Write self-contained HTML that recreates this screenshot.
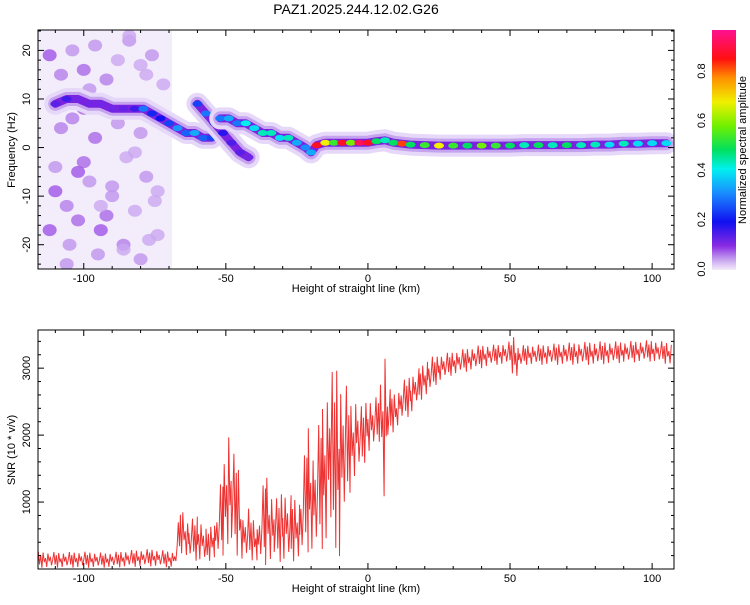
<!DOCTYPE html>
<html><head><meta charset="utf-8"><style>
body{margin:0;background:#fff;font-family:"Liberation Sans",sans-serif}
svg text{font-family:"Liberation Sans",sans-serif;font-size:11px;fill:#000}
</style></head><body>
<svg id="c" width="750" height="600" xmlns="http://www.w3.org/2000/svg">
<defs>
<linearGradient id="cb" x1="0" y1="1" x2="0" y2="0">
<stop offset="0" stop-color="#f4ecfb"/><stop offset="0.04" stop-color="#c9a8f0"/><stop offset="0.1" stop-color="#8a2be2"/>
<stop offset="0.2" stop-color="#1010f0"/><stop offset="0.32" stop-color="#1a8cff"/><stop offset="0.42" stop-color="#00f0f0"/>
<stop offset="0.5" stop-color="#00e060"/><stop offset="0.6" stop-color="#70f000"/><stop offset="0.7" stop-color="#f0f000"/>
<stop offset="0.8" stop-color="#ff9000"/><stop offset="0.88" stop-color="#ff1010"/><stop offset="1" stop-color="#ff1090"/>
</linearGradient>
<clipPath id="clipT"><rect x="38" y="30" width="636" height="239"/></clipPath>
<clipPath id="clipB"><rect x="38" y="330" width="636" height="239"/></clipPath>
</defs>
<text x="356" y="14" text-anchor="middle" style="font-size:14px">PAZ1.2025.244.12.02.G26</text>
<g id="top" clip-path="url(#clipT)"></g>
<g id="bot" clip-path="url(#clipB)"></g>
<g id="axes"></g>
<rect x="712" y="30" width="24" height="240" fill="url(#cb)"/>
<text transform="translate(746,150) rotate(-90)" text-anchor="middle">Normalized spectral amplitude</text>
<text x="356" y="292" text-anchor="middle">Height of straight line (km)</text>
<text x="356" y="592" text-anchor="middle">Height of straight line (km)</text>
<text transform="translate(15,150) rotate(-90)" text-anchor="middle">Frequency (Hz)</text>
<text transform="translate(15,450) rotate(-90)" text-anchor="middle">SNR (10 * v/v)</text>
</svg>
<script>
// main ridge (left, -110 to -53 km)
const ridgeAKm  = [-110,-106,-102,-98,-94,-90,-86,-82,-79,-76,-73,-70,-67,-64,-61,-58,-55];
const ridgeAHz  = [9,10,10,9,9,8,8,8,8,7,6,5,4,3,3,2,2];
const ridgeAAmp = [0.14,0.16,0.12,0.12,0.12,0.12,0.13,0.16,0.3,0.22,0.2,0.25,0.33,0.28,0.35,0.28,0.25];
// lower branch (-60 to -41 km)
const ridgeBKm  = [-60,-57,-54,-51,-48,-45,-42];
const ridgeBHz  = [9,7,5,3,1,-1,-2];
const ridgeBAmp = [0.25,0.3,0.22,0.18,0.15,0.14,0.12];
// continuing ridge (-52 to 107 km)
const ridgeCKm  = [-52,-49,-46,-43,-40,-37,-34,-31,-28,-25,-22,-20,-18,-15,-12,-9,-6,-3,0,3,6,9,12,15,20,25,30,35,40,45,50,55,60,65,70,75,80,85,90,95,100,105];
const ridgeCHz  = [6,6,5,5,4,3,3,2,2,1,0,-1,0.5,1,1,1,1,1,1,1.3,1.5,1,0.8,0.6,0.5,0.4,0.4,0.4,0.4,0.4,0.4,0.5,0.5,0.5,0.5,0.5,0.6,0.6,0.8,0.8,0.9,0.9];
const ridgeCAmp = [0.3,0.35,0.3,0.42,0.4,0.45,0.45,0.4,0.45,0.35,0.32,0.35,0.9,0.7,0.55,0.9,0.6,0.95,0.9,0.5,0.45,0.5,0.85,0.5,0.55,0.7,0.55,0.5,0.6,0.55,0.5,0.45,0.5,0.45,0.5,0.45,0.45,0.4,0.45,0.4,0.4,0.4];
// noise blobs region (left)
const noiseKm = [-112,-108,-104,-100,-96,-92,-88,-84,-80,-76,-72,-110,-106,-102,-98,-94,-90,-86,-82,-78,-74,-112,-105,-100,-95,-90,-85,-80,-75,-108,-102,-96,-88,-82,-77,-110,-104,-98,-92,-86,-80,-74,-106,-100,-94,-84,-78];
const noiseHz = [19,15,20,16,21,14,18,22,17,19,13,-9,-12,-15,-7,-17,-10,-20,-13,-6,-18,-17,-20,-3,-22,-8,-2,-23,-11,4,-5,2,5,-1,-19,-4,6,12,-14,-21,3,-9,-24,8,-12,23,15];
const noiseAmp = [0.08,0.06,0.05,0.07,0.05,0.06,0.04,0.05,0.04,0.05,0.04,0.08,0.06,0.07,0.05,0.08,0.05,0.06,0.04,0.05,0.04,0.08,0.05,0.07,0.05,0.05,0.04,0.05,0.04,0.06,0.08,0.07,0.05,0.04,0.04,0.05,0.06,0.05,0.07,0.04,0.05,0.04,0.05,0.07,0.04,0.04,0.04];
// SNR envelope data
const snrKm = [-116,-108,-100,-92,-84,-76,-68,-66,-63,-60,-57,-54,-51,-49,-48,-46,-44,-42,-39,-36,-33,-30,-27,-24,-21,-19,-16,-13,-11,-10,-8,-6,-4,-2,0,2,4,6,7,8,10,12,15,18,21,25,30,35,40,45,50,52,53,55,60,70,80,90,100,107];
const snrHi = [260,250,260,240,280,300,260,950,700,820,600,700,1500,2150,1700,1750,800,900,650,1500,1000,1200,1100,1050,2200,1700,2500,2900,3100,2900,2800,2500,2600,2400,2600,2500,2650,3400,2600,2700,2600,2800,2900,3000,3150,3200,3250,3300,3350,3350,3400,3550,3300,3350,3350,3380,3400,3400,3420,3380];
const snrLo = [20,20,20,20,30,40,20,250,150,120,100,150,200,300,250,200,100,150,100,60,120,100,100,150,250,200,300,400,300,50,800,1200,1400,1500,1700,1800,1900,800,1900,2000,2100,2200,2300,2500,2600,2800,2900,2950,3000,3050,3050,2750,3000,3050,3050,3050,3050,3080,3100,3050];
const xTicks=[-100,-50,0,50,100], fTicks=[-20,-10,0,10,20], sTicks=[1000,2000,3000], cbTicks=[0,0.2,0.4,0.6,0.8];

const NS='http://www.w3.org/2000/svg';
const X=v=>38+(v+116.1)*636/223.8;
const YF=v=>30+(24.2-v)*239/49.2;
const YS=v=>569-v*239/3570;
function mk(t,a,p){const e=document.createElementNS(NS,t);for(const k in a)e.setAttribute(k,a[k]);p.appendChild(e);return e;}
const stops=[[0,[244,236,251]],[0.04,[201,168,240]],[0.1,[138,43,226]],[0.2,[16,16,240]],[0.32,[26,140,255]],[0.42,[0,240,240]],[0.5,[0,224,96]],[0.6,[112,240,0]],[0.7,[240,240,0]],[0.8,[255,144,0]],[0.88,[255,16,16]],[1,[255,16,144]]];
function col(a){for(let i=1;i<stops.length;i++){if(a<=stops[i][0]){const s=stops[i-1],e=stops[i],t=(a-s[0])/(e[0]-s[0]);return 'rgb('+s[1].map((c,j)=>Math.round(c+(e[1][j]-c)*t)).join(',')+')';}}return 'rgb(255,16,144)';}
const topG=document.getElementById('top'),botG=document.getElementById('bot'),axes=document.getElementById('axes');

// noise background (patchy lavender)
const nb=mk('rect',{x:X(-116.1),y:30,width:X(-69)-X(-116.1),height:239,fill:'#f3ecfb'},topG);


noiseKm.forEach((k,i)=>{const e=mk('ellipse',{cx:X(k),cy:YF(noiseHz[i]),rx:7,ry:6,fill:col(noiseAmp[i]),opacity:0.8},topG);

});

function ridge(kms,hzs,amps,name){
 const pts=kms.map((k,i)=>X(k).toFixed(1)+','+YF(hzs[i]).toFixed(1)).join(' ');
 const h=mk('polyline',{points:pts,fill:'none',stroke:'#e6d8f8','stroke-width':22,'stroke-linejoin':'round','stroke-linecap':'round'},topG);
 
 
 const o=mk('polyline',{points:pts,fill:'none',stroke:'#c6a3ef','stroke-width':14,'stroke-linejoin':'round','stroke-linecap':'round'},topG);
 
 
 const m=mk('polyline',{points:pts,fill:'none',stroke:'#7a22e0','stroke-width':8,'stroke-linejoin':'round','stroke-linecap':'round'},topG);
 
 
 kms.forEach((k,i)=>{const e=mk('ellipse',{cx:X(k),cy:YF(hzs[i]),rx:5,ry:3,fill:col(amps[i])},topG);
 
 });
}
ridge(ridgeAKm,ridgeAHz,ridgeAAmp,'ridge-main');
ridge(ridgeBKm,ridgeBHz,ridgeBAmp,'ridge-branch');
ridge(ridgeCKm,ridgeCHz,ridgeCAmp,'ridge-carrier');

// SNR line
const pat=[1,0.2,0.8,0,0.95,0.35,0.6,0.05,0.9,0.4,0.7,0.15,0.5];
let pts=[],n=0;
for(let i=0;i<snrKm.length-1;i++){const a=X(snrKm[i]),b=X(snrKm[i+1]);for(let px=a;px<b;px+=1.2){const t=(px-a)/(b-a);const hi=snrHi[i]+(snrHi[i+1]-snrHi[i])*t,lo=snrLo[i]+(snrLo[i+1]-snrLo[i])*t;const f=pat[n++%pat.length];pts.push(px.toFixed(1)+','+YS(lo+(hi-lo)*f).toFixed(1));}}
const pl=mk('polyline',{points:pts.join(' '),fill:'none',stroke:'#ee3333','stroke-width':1},botG);



// frames & ticks
[[30,269],[330,569]].forEach(([y0,y1],p)=>{
 const r=mk('rect',{x:38,y:y0,width:636,height:y1-y0,fill:'none',stroke:'#000'},axes);
 
 
 for(let v=-110;v<=105;v+=10){const big=v%50==0,L=big?6:3;mk('line',{x1:X(v),x2:X(v),y1:y1,y2:y1-L,stroke:'#000'},axes);mk('line',{x1:X(v),x2:X(v),y1:y0,y2:y0+L,stroke:'#000'},axes);}
 xTicks.forEach(v=>{const t=mk('text',{x:X(v),y:y1+13,'text-anchor':'middle'},axes);t.textContent=v;
 
 });
});
for(let v=-24;v<=24;v+=2){const L=v%10==0?6:3;mk('line',{x1:38,x2:38+L,y1:YF(v),y2:YF(v),stroke:'#000'},axes);mk('line',{x1:674,x2:674-L,y1:YF(v),y2:YF(v),stroke:'#000'},axes);}
fTicks.forEach(v=>{const t=mk('text',{transform:'translate(30,'+YF(v)+') rotate(-90)','text-anchor':'middle'},axes);t.textContent=v;

});
for(let v=200;v<=3400;v+=200){const L=v%1000==0?6:3;mk('line',{x1:38,x2:38+L,y1:YS(v),y2:YS(v),stroke:'#000'},axes);mk('line',{x1:674,x2:674-L,y1:YS(v),y2:YS(v),stroke:'#000'},axes);}
sTicks.forEach(v=>{const t=mk('text',{transform:'translate(30,'+YS(v)+') rotate(-90)','text-anchor':'middle'},axes);t.textContent=v;

});
cbTicks.forEach(v=>{const y=269-v*240/0.97;const t=mk('text',{transform:'translate(705,'+y+') rotate(-90)','text-anchor':'middle'},axes);t.textContent=v.toFixed(1);

});
</script>
</body></html>
